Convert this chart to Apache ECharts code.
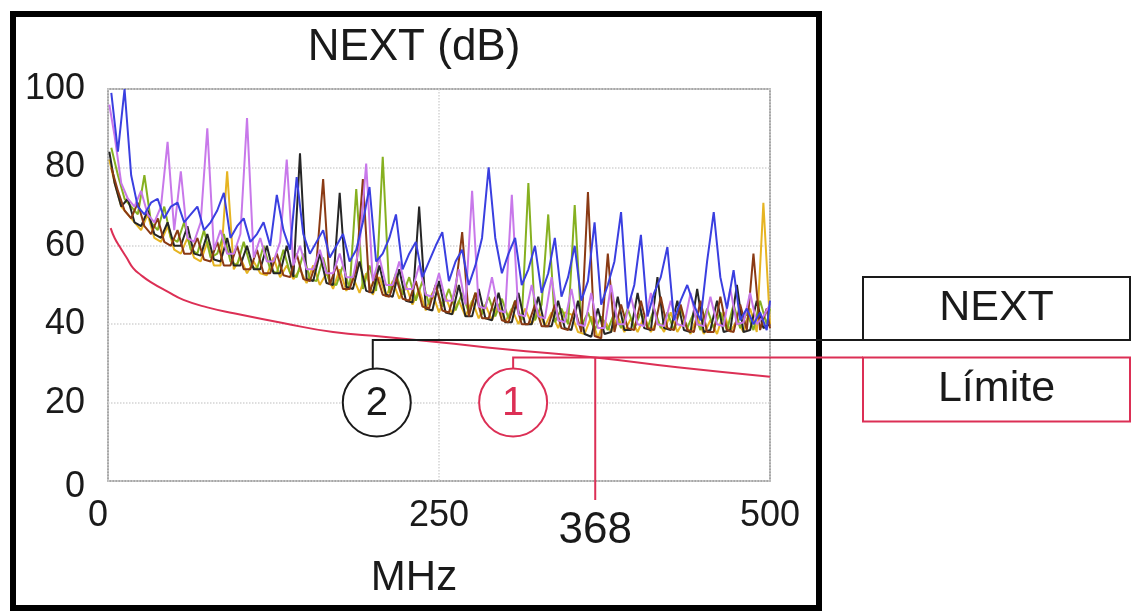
<!DOCTYPE html>
<html>
<head>
<meta charset="utf-8">
<script src="https://cdn.jsdelivr.net/npm/echarts/dist/echarts.min.js"></script>
<style>
  html, body { margin: 0; padding: 0; background: #fff; }
  #main { width: 1134px; height: 611px; }
</style>
</head>
<body>
<div id="main"></div>
<script>
// frequency grids (MHz); two pairs of sweeps sampled half a step apart
const freqA = [1, 5, 10, 15, 20, 25, 30, 35, 40, 45,
  50, 55, 60, 65, 70, 75, 80, 85, 90, 95,
  100, 105, 110, 115, 120, 125, 130, 135, 140, 145,
  150, 155, 160, 165, 170, 175, 180, 185, 190, 195,
  200, 205, 210, 215, 220, 225, 230, 235, 240, 245,
  250, 255, 260, 265, 270, 275, 280, 285, 290, 295,
  300, 305, 310, 315, 320, 325, 330, 335, 340, 345,
  350, 355, 360, 365, 370, 375, 380, 385, 390, 395,
  400, 405, 410, 415, 420, 425, 430, 435, 440, 445,
  450, 455, 460, 465, 470, 475, 480, 485, 490, 495,
  500];
const freqB = [2.5, 7.5, 12.5, 17.5, 22.5, 27.5, 32.5, 37.5, 42.5, 47.5,
  52.5, 57.5, 62.5, 67.5, 72.5, 77.5, 82.5, 87.5, 92.5, 97.5,
  102.5, 107.5, 112.5, 117.5, 122.5, 127.5, 132.5, 137.5, 142.5, 147.5,
  152.5, 157.5, 162.5, 167.5, 172.5, 177.5, 182.5, 187.5, 192.5, 197.5,
  202.5, 207.5, 212.5, 217.5, 222.5, 227.5, 232.5, 237.5, 242.5, 247.5,
  252.5, 257.5, 262.5, 267.5, 272.5, 277.5, 282.5, 287.5, 292.5, 297.5,
  302.5, 307.5, 312.5, 317.5, 322.5, 327.5, 332.5, 337.5, 342.5, 347.5,
  352.5, 357.5, 362.5, 367.5, 372.5, 377.5, 382.5, 387.5, 392.5, 397.5,
  402.5, 407.5, 412.5, 417.5, 422.5, 427.5, 432.5, 437.5, 442.5, 447.5,
  452.5, 457.5, 462.5, 467.5, 472.5, 477.5, 482.5, 487.5, 492.5, 497.5,
  500];

// NEXT per pair (dB)
const nextYellow = [82, 76, 70, 68, 66, 64, 68, 62, 61, 65,
  59, 58, 62, 57, 56, 61, 55, 55, 79, 54,
  57, 53, 56, 53, 52.5, 57, 52, 55, 51.5, 54,
  50.5, 55, 50, 53, 49, 54, 48.5, 52, 48, 53,
  47.5, 52, 47, 51, 46.5, 50, 45, 49, 43.5, 48,
  43, 47, 42.5, 46, 42, 46, 41.5, 45, 41, 45,
  40.5, 44, 40, 44, 40, 43.5, 39.5, 43, 39, 43,
  42.5, 38, 37.5, 42, 36.5, 41, 38, 42, 38, 41.5,
  38, 42, 38, 41, 38, 43, 38, 41, 37.5, 42,
  37.5, 41, 37.5, 43, 38, 41, 38, 44, 38, 71,
  40];

const nextGreen = [85, 78, 72, 70, 68, 78, 66, 64, 70, 62,
  61, 66, 59, 58, 64, 57, 58, 63, 56, 55,
  61, 55, 54, 60, 54, 53, 59, 53, 52, 58,
  51.5, 51, 57, 50.5, 50, 55, 49, 74.5, 49, 55,
  48.5, 82.7, 48, 53, 47.5, 52, 46, 51, 45, 50,
  44.5, 49, 43.5, 48, 43, 48, 42.5, 47, 42, 46.5,
  41.5, 46, 41, 76, 41, 45, 68, 40.5, 44, 40,
  70.4, 39.5, 43, 38.5, 42, 38.5, 43, 39, 44, 39,
  43, 39, 44, 39, 43, 38.5, 44, 39, 43, 38.5,
  44, 39, 43, 38.5, 45, 39, 43, 38.5, 46, 40,
  44];

const nextBrown = [80, 74, 69, 67, 71, 65, 63, 67, 61, 60,
  64, 58, 58, 62, 56.5, 56, 61, 55, 55, 60,
  54, 54, 59, 53, 53, 58, 52.5, 52, 58, 51.5,
  51, 56, 77, 50, 55, 49, 49, 54, 77, 48,
  53, 47.5, 47, 52, 46.5, 46, 51, 44.5, 44, 50,
  43.5, 43, 49, 63.5, 42, 48, 41.5, 41.5, 47, 41,
  40.5, 46, 40, 40, 45, 39.5, 39.5, 45, 39, 38.5,
  44, 38, 73.7, 37, 36.4, 58, 38, 45, 39, 38.5,
  46, 39, 38.5, 47, 39, 38.5, 45, 38.5, 38, 46,
  38, 38, 47, 38.5, 38, 45, 38.5, 58, 38.5, 44,
  39];

const nextBlack = [84, 76, 70, 72, 66, 65, 69, 63, 62, 66,
  60, 60, 65, 58, 57.5, 63, 56.5, 56, 62, 55,
  55, 60, 54, 54, 60, 53, 53, 60, 52, 83.6,
  51.5, 51, 58, 50.5, 50, 73.5, 49.5, 49, 56, 48.5,
  48, 55, 47.5, 47, 54, 46, 45.5, 70, 44, 43.5,
  51, 43, 42.5, 50, 42, 42, 49, 41.5, 41, 48,
  40.5, 40.5, 48, 40, 40, 47, 39.5, 39.5, 46, 39,
  38.5, 46, 37.5, 36.8, 44, 37.5, 38, 47, 38.5, 38.5,
  48, 39, 38.5, 52, 39, 38.5, 46, 38.5, 38, 49,
  38, 38.5, 46, 38, 38.5, 50, 38, 38.5, 46, 39,
  40];

const nextViolet = [96, 88, 76, 72, 70, 74, 68, 66, 70, 86.5,
  64, 79, 62, 61, 66, 90, 59, 64, 58, 58,
  63, 92.6, 57, 62, 56, 56, 61, 82, 55, 60,
  54, 54, 59, 53, 53, 58, 52, 52, 60, 81,
  51, 57, 50, 50, 56, 49, 49, 55, 47.5, 47,
  53, 46, 46, 54, 45, 74, 44.5, 44, 52, 43.5,
  43, 73, 42.5, 42, 50, 42, 41.5, 52, 41, 40.5,
  49, 40, 39.5, 48, 39, 39, 50, 40, 40, 47,
  40, 39.5, 48, 40, 39.5, 46, 40, 39.5, 48, 40,
  39.5, 47, 40, 39.5, 49, 40, 40.5, 48, 40, 42,
  45];

const nextBlue = [99, 84, 100, 78, 70, 68, 71, 72, 67, 70,
  71, 66, 68, 70, 64, 66, 69, 73.5, 62, 65,
  67, 61, 63, 66, 60, 73, 64, 59, 77.5, 63,
  58, 61, 64, 57, 60, 63, 56, 59, 66, 75,
  56, 58, 62, 68, 54, 58, 61, 52, 56, 60,
  63.5, 51, 56, 59, 50, 55, 62, 80, 62, 53,
  58, 62, 50, 54, 60, 48, 53, 62, 47, 52,
  60, 46, 51, 66, 45, 50, 56, 68.6, 44, 50,
  62.8, 42, 48, 52, 59.7, 41, 46, 50, 45, 41,
  56, 68.6, 52, 44, 53.8, 41, 44, 40, 43, 38.5,
  46];

// limit line
const limitFreq = [2, 5, 9, 14, 19, 25, 32, 45, 57, 75, 95, 132, 170, 208, 250, 300, 368, 430, 500];
const limitValue = [64.5, 62, 59.7, 57, 54.3, 52.5, 50.8, 48.3, 46.2, 44.3, 42.8, 40.3, 38, 36.8, 35.4, 33.6, 31.5, 29, 26.6];

// callouts
const worstFreq = 368;
const worstLimit = 31.5;
const worstNext = 36;
const callout2Freq = 203;
const callout1Freq = 306;
const calloutLevel = 20;

const xTicks = [0, 250, 500];
const yTicks = [0, 20, 40, 60, 80, 100];

const FONT = '"Liberation Sans", Arial, Helvetica, sans-serif';
const TXT = '#1a1a1a';
const RED = '#dc2f55';

function trace(name, color, fs, ys) {
  return {
    name: name,
    type: 'line',
    data: fs.map((f, i) => [f, ys[i]]),
    showSymbol: false,
    lineStyle: { color: color, width: 2 },
    itemStyle: { color: color },
    animation: false,
    z: 2
  };
}

let myChart = echarts.init(document.getElementById('main'));
let option = {
  backgroundColor: '#fff',
  animation: false,
  grid: {
    left: 108, right: 364, top: 89, bottom: 130,
    show: true, borderColor: '#8a8a8a', borderWidth: 1.5, backgroundColor: 'transparent'
  },
  xAxis: {
    type: 'value', min: xTicks[0], max: xTicks[2], interval: 250,
    axisLine: { show: false }, axisTick: { show: false },
    splitLine: { show: true, lineStyle: { color: '#d4d4d4', type: 'dotted', width: 1.5 } },
    axisLabel: {
      fontSize: 36, color: TXT, fontFamily: FONT, margin: 17,
      formatter: v => (v === 0 ? '{z|0}' : String(v)),
      rich: { z: { fontSize: 36, color: TXT, fontFamily: FONT, padding: [0, 20, 0, 0] } }
    }
  },
  yAxis: {
    type: 'value', min: yTicks[0], max: yTicks[5], interval: 20,
    axisLine: { show: false }, axisTick: { show: false },
    splitLine: { show: true, lineStyle: { color: '#d4d4d4', type: 'dotted', width: 1.5 } },
    axisLabel: {
      fontSize: 36, color: TXT, fontFamily: FONT, margin: 23,
      formatter: v => (v === 0 ? '{z|0}' : String(v)),
      rich: { z: { fontSize: 36, color: TXT, fontFamily: FONT, padding: [12, 0, 0, 0] } }
    }
  },
  series: [
    trace('Par amarillo', '#e6b422', freqA, nextYellow),
    trace('Par verde', '#86b020', freqB, nextGreen),
    trace('Par negro', '#262626', freqA, nextBlack),
    trace('Par marrón', '#8a3a14', freqB, nextBrown),
    trace('Par violeta', '#c878ea', freqA, nextViolet),
    trace('Par azul', '#3a3fe0', freqB, nextBlue),
    {
      name: 'Límite',
      type: 'line',
      data: limitFreq.map((f, i) => [f, limitValue[i]]),
      showSymbol: false,
      smooth: true,
      lineStyle: { color: RED, width: 2 },
      animation: false,
      z: 3
    }
  ]
};
myChart.setOption(option);

// annotations positioned through the axis scales
const px = (f, v) => myChart.convertToPixel({ gridIndex: 0 }, [f, v]);
const pNext = px(callout2Freq, worstNext);
const pLim = px(callout1Freq, worstLimit);
const c2 = px(callout2Freq, calloutLevel);
const c1 = px(callout1Freq, calloutLevel);
const pWorst = px(worstFreq, worstLimit);
const pWorstBase = px(worstFreq, 0);
const R = 34;
const boxX = 863, boxW = 267, boxH = 63;

myChart.setOption({
  graphic: [
    { type: 'rect', shape: { x: 13, y: 14, width: 806, height: 594 },
      style: { fill: 'none', stroke: '#000', lineWidth: 6 }, z: 20 },
    { type: 'text', x: 414, y: 48, z: 20,
      style: { text: 'NEXT (dB)', font: '44px ' + FONT, fill: TXT, textAlign: 'center', textVerticalAlign: 'middle' } },
    { type: 'text', x: 414, y: 578, z: 20,
      style: { text: 'MHz', font: '42px ' + FONT, fill: TXT, textAlign: 'center', textVerticalAlign: 'middle' } },
    { type: 'text', x: pWorst[0], y: 531, z: 20,
      style: { text: String(worstFreq), font: '44px ' + FONT, fill: TXT, textAlign: 'center', textVerticalAlign: 'middle' } },
    // black callout (2)
    { type: 'polyline', z: 20,
      shape: { points: [[c2[0] - 4, c2[1] - R], [pNext[0] - 4, pNext[1]], [880, pNext[1]]] },
      style: { stroke: '#1a1a1a', lineWidth: 2, fill: 'none' } },
    { type: 'circle', z: 20, shape: { cx: c2[0], cy: c2[1], r: R },
      style: { fill: '#fff', stroke: '#1a1a1a', lineWidth: 2 } },
    { type: 'text', x: c2[0], y: c2[1] + 1, z: 21,
      style: { text: '2', font: '40px ' + FONT, fill: TXT, textAlign: 'center', textVerticalAlign: 'middle' } },
    // red callout (1)
    { type: 'polyline', z: 20,
      shape: { points: [[c1[0], c1[1] - R], [pLim[0], pLim[1]], [boxX, pLim[1]]] },
      style: { stroke: RED, lineWidth: 2, fill: 'none' } },
    { type: 'line', z: 20,
      shape: { x1: pWorst[0], y1: pWorst[1], x2: pWorst[0], y2: pWorstBase[1] + 19 },
      style: { stroke: RED, lineWidth: 2 } },
    { type: 'circle', z: 20, shape: { cx: c1[0], cy: c1[1], r: R },
      style: { fill: '#fff', stroke: RED, lineWidth: 2 } },
    { type: 'text', x: c1[0], y: c1[1] + 1, z: 21,
      style: { text: '1', font: '40px ' + FONT, fill: RED, textAlign: 'center', textVerticalAlign: 'middle' } },
    // boxes
    { type: 'rect', z: 20, shape: { x: boxX, y: pNext[1] - boxH, width: boxW, height: boxH },
      style: { fill: '#fff', stroke: '#1a1a1a', lineWidth: 2 } },
    { type: 'text', x: boxX + boxW / 2, y: pNext[1] - boxH / 2, z: 21,
      style: { text: 'NEXT', font: '43px ' + FONT, fill: TXT, textAlign: 'center', textVerticalAlign: 'middle' } },
    { type: 'rect', z: 20, shape: { x: boxX, y: pLim[1], width: boxW, height: boxH + 1 },
      style: { fill: '#fff', stroke: RED, lineWidth: 2 } },
    { type: 'text', x: boxX + boxW / 2, y: pLim[1] + boxH / 2, z: 21,
      style: { text: 'Límite', font: '43px ' + FONT, fill: TXT, textAlign: 'center', textVerticalAlign: 'middle' } }
  ]
});
</script>
</body>
</html>
